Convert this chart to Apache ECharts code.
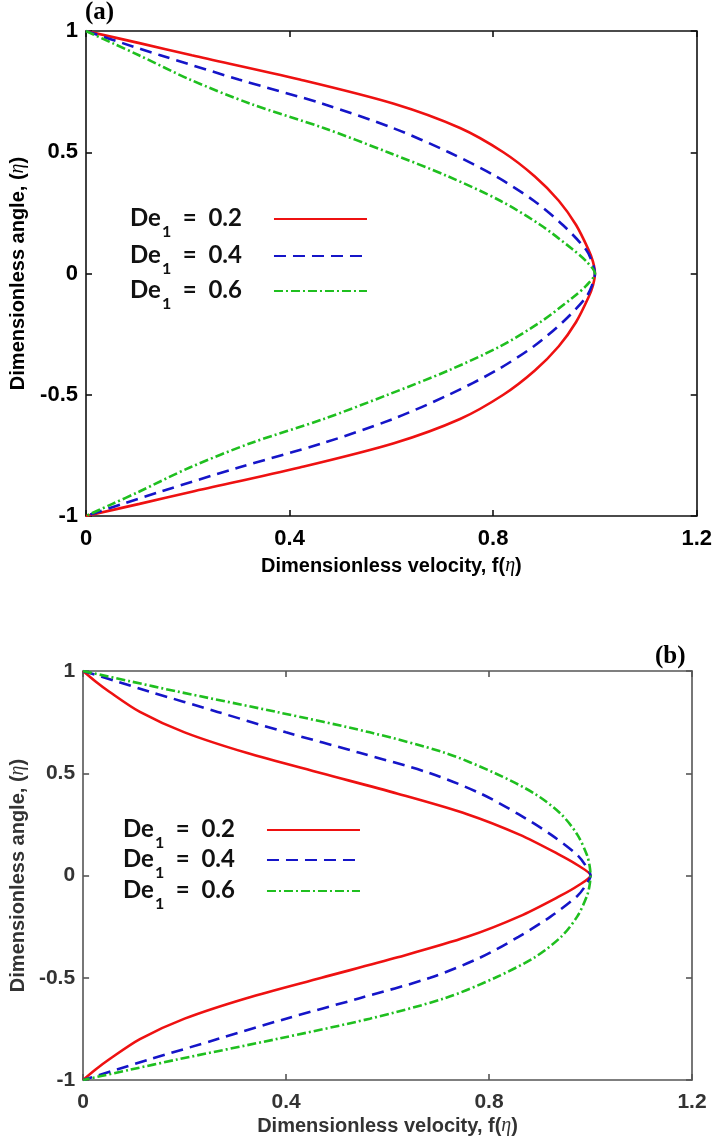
<!DOCTYPE html>
<html>
<head>
<meta charset="utf-8">
<script src="https://cdn.jsdelivr.net/npm/echarts@6/dist/echarts.min.js"></script>
<style>html,body{margin:0;padding:0;background:#fff}#c{width:715px;height:1138px}</style>
</head>
<body>
<div id="c"></div>
<script>
// ---- data ----
var seriesNames = ['De1 = 0.2', 'De1 = 0.4', 'De1 = 0.6'];
var etaGrid = [1, 0.95, 0.9, 0.8, 0.7, 0.6, 0.5, 0.4, 0.3, 0.2, 0.1, 0.05, 0, -0.05, -0.1, -0.2, -0.3, -0.4, -0.5, -0.6, -0.7, -0.8, -0.9, -0.95, -1];
// panel (a): velocity f(eta)
var fA_De02 = [0, 0.105, 0.208, 0.42, 0.605, 0.735, 0.82, 0.882, 0.929, 0.963, 0.987, 0.996, 1, 0.996, 0.987, 0.963, 0.929, 0.882, 0.82, 0.735, 0.605, 0.42, 0.208, 0.105, 0];
var fA_De04 = [0, 0.072, 0.146, 0.30, 0.465, 0.603, 0.713, 0.806, 0.88, 0.937, 0.982, 0.994, 1, 0.994, 0.982, 0.937, 0.88, 0.806, 0.713, 0.603, 0.465, 0.30, 0.146, 0.072, 0];
var fA_De06 = [0, 0.052, 0.104, 0.204, 0.323, 0.467, 0.593, 0.712, 0.814, 0.893, 0.956, 0.983, 1, 0.983, 0.956, 0.893, 0.814, 0.712, 0.593, 0.467, 0.323, 0.204, 0.104, 0.052, 0];
// panel (b)
var fB_De02 = [0, 0.024, 0.051, 0.112, 0.20, 0.322, 0.47, 0.62, 0.757, 0.86, 0.94, 0.975, 1, 0.975, 0.94, 0.86, 0.757, 0.62, 0.47, 0.322, 0.20, 0.112, 0.051, 0.024, 0];
var fB_De04 = [0, 0.065, 0.13, 0.265, 0.40, 0.545, 0.684, 0.784, 0.858, 0.922, 0.974, 0.99, 1, 0.99, 0.974, 0.922, 0.858, 0.784, 0.684, 0.545, 0.40, 0.265, 0.13, 0.065, 0];
var fB_De06 = [0, 0.092, 0.185, 0.381, 0.565, 0.713, 0.812, 0.89, 0.942, 0.974, 0.993, 0.998, 1, 0.998, 0.993, 0.974, 0.942, 0.89, 0.812, 0.713, 0.565, 0.381, 0.185, 0.092, 0];
var xTickLabels = ['0', '0.4', '0.8', '1.2'];
var yTickLabels = ['-1', '-0.5', '0', '0.5', '1'];
var panelLabels = ['(a)', '(b)'];

// ---- styles ----
var colors = ['#ee1111', '#1515c8', '#1fbf1f'];
var dashes = ['solid', [12, 7], [9, 3, 2, 3]];

function pairs(f) { return etaGrid.map(function (e, i) { return [f[i], e]; }); }
function xLab(v) { var i = Math.round(v / 0.4); return xTickLabels[i] != null ? xTickLabels[i] : ''; }
function yLab(v) { var i = Math.round((v + 1) / 0.5); return yTickLabels[i] != null ? yTickLabels[i] : ''; }

var panels = [
  { grid: { left: 85, top: 31, width: 614, height: 485 }, axisColor: '#111', textColor: '#000', labelSize: 22,
    xGap: 40, yGap: 58, data: [fA_De02, fA_De04, fA_De06],
    legendLeft: 130, legendTops: [206, 243, 278] },
  { grid: { left: 78, top: 671, width: 614, height: 409 }, axisColor: '#555', textColor: '#333', labelSize: 21,
    xGap: 36, yGap: 54, data: [fB_De02, fB_De04, fB_De06],
    legendLeft: 123, legendTops: [817, 847, 878] }
];

var option = { animation: false, grid: [], xAxis: [], yAxis: [], series: [], legend: [], title: [] };
var nameRich = function (c) {
  return {
    a: { fontFamily: 'Liberation Sans', fontWeight: 'bold', fontSize: 20, color: c },
    i: { fontFamily: 'Liberation Serif', fontStyle: 'italic', fontSize: 20, color: c }
  };
};
panels.forEach(function (p, k) {
  option.grid.push(Object.assign({ containLabel: false }, p.grid));
  var line = { show: true, onZero: false, lineStyle: { color: p.axisColor, width: 1.6 } };
  var tick = { show: true, inside: true, length: 6, lineStyle: { color: p.axisColor, width: 1.6 } };
  option.xAxis.push({
    gridIndex: k, type: 'value', min: 0, max: 1.2, interval: 0.4, position: 'bottom',
    axisLine: line, axisTick: tick, splitLine: { show: false },
    axisLabel: { formatter: xLab, fontFamily: 'Liberation Sans', fontWeight: 'bold', fontSize: p.labelSize, color: p.textColor, margin: 12 },
    name: '{a|Dimensionless velocity, f(}{i|η}{a|)}', nameLocation: 'middle', nameGap: p.xGap,
    nameTextStyle: { rich: nameRich(p.textColor) }
  });
  option.xAxis.push({
    gridIndex: k, type: 'value', min: 0, max: 1.2, interval: 0.4, position: 'top',
    axisLine: line, axisTick: tick, splitLine: { show: false }, axisLabel: { show: false }
  });
  option.yAxis.push({
    gridIndex: k, type: 'value', min: -1, max: 1, interval: 0.5, position: 'left',
    axisLine: line, axisTick: tick, splitLine: { show: false },
    axisLabel: { formatter: yLab, fontFamily: 'Liberation Sans', fontWeight: 'bold', fontSize: p.labelSize, color: p.textColor, margin: 8 },
    name: '{a|Dimensionless angle, (}{i|η}{a|)}', nameLocation: 'middle', nameGap: p.yGap, nameRotate: 90,
    nameTextStyle: { rich: nameRich(p.textColor) }
  });
  option.yAxis.push({
    gridIndex: k, type: 'value', min: -1, max: 1, interval: 0.5, position: 'right',
    axisLine: line, axisTick: tick, splitLine: { show: false }, axisLabel: { show: false }
  });
  p.data.forEach(function (f, j) {
    option.series.push({
      type: 'line', name: seriesNames[j], xAxisIndex: 2 * k, yAxisIndex: 2 * k,
      data: pairs(f), smooth: 0.3, symbol: 'none', showSymbol: false,
      lineStyle: { color: colors[j], width: 2.6, type: dashes[j] }, itemStyle: { color: colors[j] }
    });
    option.legend.push({
      data: [seriesNames[j]], left: p.legendLeft, top: p.legendTops[j], orient: 'horizontal', align: 'right',
      itemWidth: 93, itemHeight: 14, selectedMode: false, padding: 0,
      itemStyle: { color: 'rgba(0,0,0,0)', borderColor: 'rgba(0,0,0,0)', borderWidth: 0, opacity: 0 },
      formatter: function (n) { return '{de|De}{sub|1}{t|  =  ' + n.split('= ')[1] + '}{gap|}'; },
      textStyle: {
        color: '#111',
        rich: {
          de: { fontFamily: 'Lato', fontWeight: 'bold', fontSize: 24, color: '#111', verticalAlign: 'top', lineHeight: 26 },
          sub: { fontFamily: 'Lato', fontWeight: 'bold', fontSize: 16, color: '#111', verticalAlign: 'top', lineHeight: 16, padding: [18, 0, 0, 1] },
          t: { fontFamily: 'Lato', fontWeight: 'bold', fontSize: 24, color: '#111', verticalAlign: 'top', lineHeight: 26 },
          gap: { width: 27 }
        }
      }
    });
  });
  option.title.push({
    text: panelLabels[k], left: k === 0 ? 85 : 655, top: k === 0 ? 0 : 644, padding: 0,
    textStyle: { fontFamily: 'Liberation Serif', fontWeight: 'bold', fontSize: 25, color: '#000' }
  });
});

var chart = echarts.init(document.getElementById('c'), null, { renderer: 'canvas' });
chart.setOption(option);
</script>
</body>
</html>
